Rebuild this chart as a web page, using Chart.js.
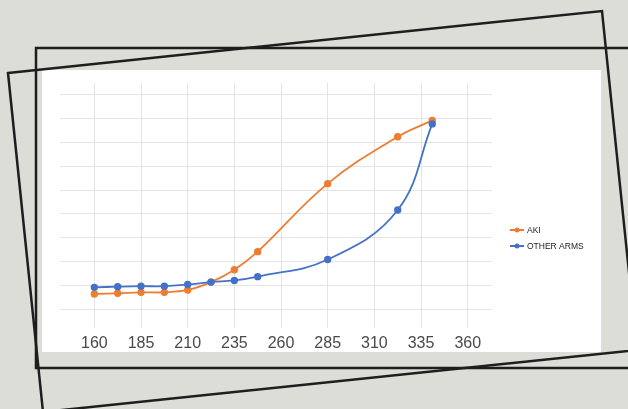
<!DOCTYPE html>
<html>
<head>
<meta charset="utf-8">
<script src="https://cdn.jsdelivr.net/npm/chart.js@4.4.1/dist/chart.umd.min.js"></script>
<style>
  html, body { margin: 0; padding: 0; }
  body { width: 628px; height: 409px; background: #dcddd6; position: relative; overflow: hidden; }
  #panel { position: absolute; left: 42px; top: 70px; width: 559px; height: 282px; background: #fff; overflow: hidden; }
  #frames { position: absolute; left: 0; top: 0; }
</style>
</head>
<body>
<div id="panel"><canvas id="chart" width="559" height="289"></canvas></div>
<svg id="frames" width="628" height="409">
  <polyline points="645,48 36,48 36,368 645,368" fill="none" stroke="#1e1e1e" stroke-width="2.5"/>
  <polygon points="8,73 602,11 637,350 43,412" fill="none" stroke="#1e1e1e" stroke-width="2.5"/>
</svg>
<script>
// x positions of the points
const xAki = [160, 172.5, 185, 197.5, 210, 222.5, 235, 247.5, 285, 322.5, 341];
const yAki = [6.3, 6.6, 7.0, 7.0, 8.0, 11.3, 16.5, 24.1, 52.7, 72.4, 79.3];
const xOther = [160, 172.5, 185, 197.5, 210, 222.5, 235, 247.5, 285, 322.5, 341];
const yOther = [9.1, 9.4, 9.6, 9.6, 10.3, 11.3, 12.0, 13.6, 20.8, 41.6, 77.8];
const xTicks = [160, 185, 210, 235, 260, 285, 310, 335, 360];
const yTicks = [0, 10, 20, 30, 40, 50, 60, 70, 80, 90];

const orange = '#ef7d31';
const blue = '#4571c8';

function pts(xs, ys) {
  return xs.map((x, i) => ({ x: x, y: ys[i] }));
}

// legend on the right, line with a dot in the middle
const sideLegend = {
  id: 'sideLegend',
  afterDraw(chart) {
    const ctx = chart.ctx;
    ctx.save();
    chart.data.datasets.forEach((ds, i) => {
      const y = 160 + i * 16;
      ctx.strokeStyle = ds.borderColor;
      ctx.lineWidth = 2;
      ctx.beginPath();
      ctx.moveTo(468, y);
      ctx.lineTo(482, y);
      ctx.stroke();
      ctx.fillStyle = ds.borderColor;
      ctx.beginPath();
      ctx.arc(475, y, 2.5, 0, Math.PI * 2);
      ctx.fill();
      ctx.fillStyle = '#222';
      ctx.font = '8.5px "Liberation Sans", Arial, sans-serif';
      ctx.textBaseline = 'middle';
      ctx.fillText(ds.label, 485, y + 0.5);
    });
    ctx.restore();
  }
};

new Chart(document.getElementById('chart'), {
  type: 'line',
  data: {
    datasets: [
      {
        label: 'AKI',
        data: pts(xAki, yAki),
        borderColor: orange,
        backgroundColor: orange,
        borderWidth: 1.8,
        pointRadius: 2.8,
        pointHoverRadius: 2.8,
        tension: 0.4,
        order: 2
      },
      {
        label: 'OTHER ARMS',
        data: pts(xOther, yOther),
        borderColor: blue,
        backgroundColor: blue,
        borderWidth: 1.8,
        pointRadius: 2.8,
        pointHoverRadius: 2.8,
        tension: 0.4,
        order: 1
      }
    ]
  },
  options: {
    responsive: false,
    animation: false,
    layout: { padding: { left: 18, right: 109, top: 13, bottom: 0 } },
    plugins: {
      legend: { display: false },
      tooltip: { enabled: false }
    },
    scales: {
      x: {
        type: 'linear',
        min: 141.6,
        max: 373,
        afterBuildTicks: axis => { axis.ticks = xTicks.map(v => ({ value: v })); },
        grid: { color: '#e4e4e4', lineWidth: 1, drawTicks: false },
        border: { display: false },
        ticks: {
          padding: 6,
          color: '#4a4a4a',
          font: { family: '"Liberation Sans", Arial, sans-serif', size: 16 },
          maxRotation: 0,
          autoSkip: false
        }
      },
      y: {
        type: 'linear',
        min: -7.9,
        max: 95,
        afterBuildTicks: axis => { axis.ticks = yTicks.map(v => ({ value: v })); },
        grid: { color: '#e4e4e4', lineWidth: 1, drawTicks: false },
        border: { display: false },
        ticks: { display: false }
      }
    }
  },
  plugins: [sideLegend]
});
</script>
</body>
</html>
